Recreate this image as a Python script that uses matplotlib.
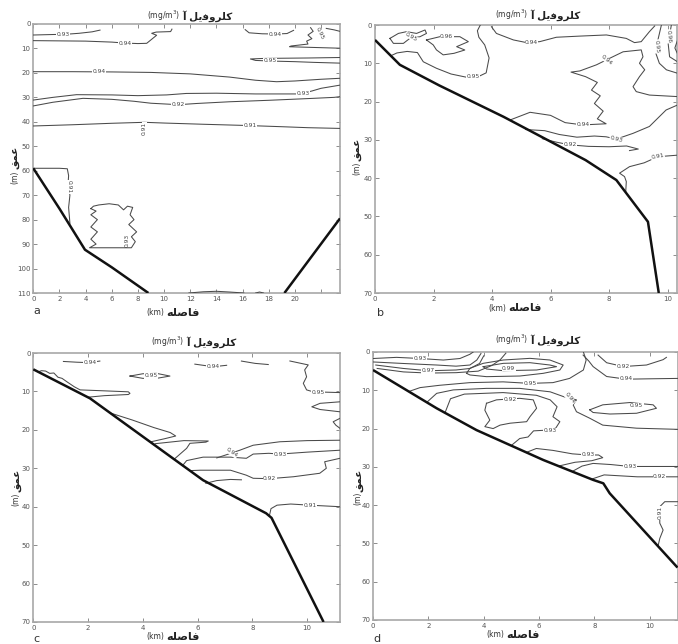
import matplotlib
matplotlib.use('Agg')
import matplotlib.pyplot as plt
from matplotlib.font_manager import findfont, FontProperties
from matplotlib.ft2font import FT2Font

plt.rcParams['font.family'] = ['DejaVu Sans']

def _has(ch, weight='bold'):
    try:
        f = FT2Font(findfont(FontProperties(family='DejaVu Sans', weight=weight)))
        return f.get_char_index(ord(ch)) != 0
    except Exception:
        return False

# ---- Persian text (presentation forms, visual order) ----
KAF_INI = '\uFB90' if _has('\uFB90') else '\uFEDB'
YEH_MED = '\uFBFE' if _has('\uFBFE') else '\uFEF4'
TITLE_FA = '\uFE81 ' + '\uFEDE' + YEH_MED + '\uFED3\uFEED\uFEAE\uFEE0' + KAF_INI   # آ کلروفیل
TITLE_UNIT = '(mg/m$^3$)'
XLABEL_FA = '\uFEEA\uFEE0\uFEBB\uFE8E\uFED3'   # فاصله
XLABEL_UNIT = '(km)'
YLABEL_FA = '\uFED6\uFEE4\uFECB'               # عمق
YLABEL_UNIT = '(m)'
PANEL_LETTERS = ['a', 'b', 'c', 'd']

# ---- axis ranges / ticks ----
A_XTICKS = [0, 2, 4, 6, 8, 10, 12, 14, 16, 18, 20, 22]
A_XTICKLABELS = ['0', '2', '4', '6', '8', '10', '12', '14', '16', '18', '20', '']
A_YTICKS = [0, 10, 20, 30, 40, 50, 60, 70, 80, 90, 100, 110]
BCD_XTICKS = [0, 2, 4, 6, 8, 10]
BCD_YTICKS = [0, 10, 20, 30, 40, 50, 60, 70]

# ---- panel a ----
A_BATHY = [([0, 2.0, 3.95, 6.0, 8.8], [59, 75.5, 92.3, 99.5, 110]),
           ([19.2, 23.45], [110, 79.5])]
A_LINES = [
    ([0, 1.5, 2.5, 3.5, 4.5, 5.1], [4.5, 4.3, 4.2, 3.8, 3.2, 2.5]),
    ([0, 2, 4, 6, 7, 8, 8.67, 9.43, 9.05, 9.4, 10.5, 10.6], [6.8, 6.9, 7.0, 7.4, 7.8, 8.0, 7.9, 4.6, 3.8, 3.3, 3.1, 2.1]),
    ([16.2, 16.5, 17.5, 18.6, 19.4, 19.9], [2.3, 3.6, 4.0, 4.1, 3.9, 2.6]),
    ([23.45, 21.5, 19.6, 19.7, 21.0, 20.9, 21.3, 21.0, 21.4, 21.2], [9.9, 9.6, 9.3, 9.0, 8.2, 7.0, 6.0, 4.5, 3.0, 1.5]),
    ([22.4, 23.0, 23.45], [1.8, 2.4, 3.0]),
    ([23.45, 21, 19, 17.5, 16.6, 17.0, 18.5, 20, 21.5, 23.45], [13.7, 13.9, 14.0, 14.1, 14.3, 14.9, 15.2, 15.4, 15.7, 16.0]),
    ([0, 3, 6, 9, 12, 15, 17, 18.6, 20, 22, 23.45], [19.5, 19.5, 19.6, 19.8, 20.4, 21.7, 23.0, 23.6, 23.3, 22.6, 22.2]),
    ([0, 1.5, 3.3, 6, 8, 10.2, 11.7, 14, 17, 20.4, 21.3, 22.0, 23.45], [31.1, 30.0, 28.9, 29.0, 29.3, 29.0, 28.4, 28.3, 28.6, 28.6, 27.4, 26.3, 25.0]),
    ([0, 1.5, 3.8, 6, 7.7, 9, 11.1, 12.5, 15, 18, 21, 23, 23.45], [33.5, 32.0, 30.4, 30.8, 31.6, 32.4, 33.0, 32.5, 31.8, 31.2, 30.5, 30.0, 29.7]),
    ([0, 3, 6, 8.5, 10, 13, 16.3, 19, 21, 23.45], [41.7, 41.2, 40.6, 40.2, 40.5, 41.0, 41.5, 42.0, 42.4, 42.7]),
    ([0, 1.0, 2.0, 2.6, 2.7, 2.65, 2.8, 2.7, 2.8], [59, 59, 59, 59.2, 62, 66, 70, 75, 81.5]),
    ([4.4, 4.6, 5.0, 5.8, 6.5, 6.9, 7.2, 7.6, 7.4, 7.7, 7.3, 7.9, 7.5, 7.8, 7.5, 4.3, 4.8, 4.4, 4.9, 4.4, 4.9, 4.4, 4.8, 4.4],
     [75.5, 74.5, 74.0, 73.5, 74.0, 76.0, 74.5, 75.0, 78.0, 80.0, 82.0, 85.0, 87.0, 89.0, 91.5, 91.5, 90.0, 88.0, 85.0, 83.0, 80.0, 78.0, 76.5, 75.5]),
    ([11.9, 13, 14, 15, 16.1], [110, 109.5, 109.3, 109.6, 110]),
    ([17.0, 17.3, 17.6], [110, 109.6, 110]),
]
A_LABELS = [('0.93', 2.3, 4.2, 0), ('0.94', 7.0, 7.8, 0), ('0.94', 18.5, 4.1, 0),
            ('0.95', 21.9, 3.8, -65), ('0.95', 18.1, 15.1, 0), ('0.94', 5.0, 19.6, 0),
            ('0.93', 20.6, 28.6, 0), ('0.92', 11.1, 33.0, 0), ('0.91', 8.5, 42.8, 90),
            ('0.91', 16.6, 41.6, 0), ('0.91', 2.72, 66.5, -90), ('0.93', 7.2, 88.5, 90)]

# ---- panel b ----
B_BATHY = [([0, 0.85, 2.2, 4.4, 7.2, 8.25, 9.33, 9.7], [3.9, 10.4, 15.8, 24.0, 35.3, 40.5, 51.4, 70])]
B_LINES = [
    ([0.51, 0.8, 1.08, 1.42, 1.71, 1.76, 1.54, 1.19, 0.97, 0.63, 0.51], [3.5, 2.2, 1.74, 2.2, 1.3, 2.2, 3.05, 3.5, 4.8, 4.8, 3.5]),
    ([1.76, 2.22, 2.9, 3.19, 2.79, 3.07, 2.7, 2.33, 2.1, 1.99, 1.76], [3.9, 3.05, 3.05, 4.35, 5.66, 6.53, 7.4, 7.8, 6.5, 5.2, 3.9]),
    ([0.55, 0.75, 1.1, 1.45, 1.65, 2.1, 2.6, 3.1, 3.5, 3.8, 3.9, 3.75, 3.55, 3.5, 3.6], [8.0, 7.3, 6.9, 7.2, 9.6, 11.3, 12.8, 13.6, 13.6, 12.5, 8.6, 5.2, 3.2, 1.5, 0]),
    ([3.98, 4.15, 4.73, 5.18, 5.63, 6.2, 7.0, 7.91, 8.59, 8.87, 9.1, 9.38, 9.56], [0.44, 2.2, 3.9, 4.6, 4.35, 3.2, 2.9, 2.6, 3.5, 4.6, 4.35, 1.74, 0.26]),
    ([4.62, 5.3, 6.0, 6.5, 7.1, 7.9, 7.6, 7.8, 7.5, 7.7, 7.4, 7.6, 7.2, 6.7, 7.0, 7.57, 8.02, 8.48, 9.1, 9.16, 9.04, 9.22, 9.04, 8.82, 8.93, 9.38, 10.34],
     [24.8, 22.8, 23.6, 25.5, 26.1, 25.8, 24.5, 22.5, 20.5, 18.5, 17.0, 15.0, 13.5, 12.3, 12.0, 10.4, 8.7, 7.0, 6.5, 8.3, 10.0, 11.7, 13.5, 16.1, 17.4, 18.3, 18.7]),
    ([5.15, 5.8, 6.3, 6.9, 7.5, 7.9, 8.25, 8.82, 9.38, 9.95, 10.34], [27.3, 27.6, 28.6, 29.3, 29.0, 29.2, 29.8, 28.3, 26.5, 22.2, 20.9]),
    ([5.72, 6.2, 6.66, 7.3, 8.0, 8.6, 9.0, 8.7], [29.7, 30.6, 31.3, 31.7, 31.8, 31.6, 32.4, 32.8]),
    ([10.34, 9.67, 9.2, 8.7, 8.36, 8.53, 8.59, 8.57], [34.0, 34.4, 36.0, 37.0, 38.7, 39.6, 40.9, 43.6]),
    ([9.79, 9.67, 9.6, 9.72, 9.96, 10.34], [0, 3.9, 7.4, 10.0, 11.7, 12.6]),
    ([10.13, 10.02, 10.07, 10.34], [0, 4.8, 8.3, 9.6]),
    ([10.34, 10.25, 10.34], [4.0, 6.0, 7.5]),
]
B_LABELS = [('0.95', 1.25, 3.1, -30), ('0.96', 2.45, 3.1, 0), ('0.95', 3.36, 13.5, 0),
            ('0.94', 5.35, 4.6, 0), ('0.94', 7.91, 9.1, -40), ('0.94', 7.1, 26.1, 0),
            ('0.93', 8.25, 29.8, -15), ('0.92', 6.66, 31.3, 0), ('0.91', 9.67, 34.4, 10),
            ('0.95', 9.64, 5.6, -85), ('0.96', 10.05, 3.0, -85)]

# ---- panel c ----
C_BATHY = [([0, 2.07, 6.2, 8.5, 8.7, 10.6], [4.25, 11.8, 33.1, 41.7, 42.9, 70])]
C_LINES = [
    ([1.1, 1.6, 2.0, 2.43], [2.2, 2.4, 2.5, 2.1]),
    ([3.53, 4.0, 4.5, 4.99, 4.5, 4.0, 3.53], [6.0, 5.4, 5.3, 6.0, 6.6, 6.6, 6.0]),
    ([5.9, 6.3, 6.8, 7.06], [2.9, 3.3, 3.4, 3.2]),
    ([7.6, 8.1, 8.58], [2.1, 2.7, 3.0]),
    ([9.37, 10.04, 9.91, 9.98, 9.86, 9.98, 10.22, 11.2], [2.08, 3.1, 4.4, 6.2, 7.9, 9.6, 10.1, 10.3]),
    ([11.2, 10.47, 10.17, 10.47, 11.2], [12.7, 13.1, 14.0, 14.7, 15.3]),
    ([11.2, 10.95, 11.05, 11.2], [17.0, 17.9, 18.8, 19.6]),
    ([0.18, 0.3, 0.45, 0.6, 0.75, 0.9, 1.05, 1.25, 1.5, 1.71, 2.43, 3.47, 3.53, 3.47, 2.6, 2.0],
     [4.9, 4.6, 4.7, 5.3, 5.2, 6.3, 6.6, 7.6, 8.8, 9.6, 9.8, 10.1, 10.5, 10.8, 11.1, 11.5]),
    ([2.85, 3.6, 4.4, 5.0, 5.2, 4.8, 4.3], [15.7, 17.4, 19.4, 20.7, 21.6, 22.3, 23.1]),
    ([4.45, 5.5, 6.39, 6.3, 5.72, 5.6, 5.15], [23.6, 22.8, 22.9, 23.2, 23.5, 24.8, 27.6]),
    ([6.7, 7.0, 7.54, 8.03, 9.0, 10.0, 11.2], [27.3, 26.6, 25.3, 24.0, 23.1, 22.8, 22.7]),
    ([5.45, 5.6, 6.2, 7.2, 7.78, 8.03, 8.6, 9.0, 10.0, 11.2], [29.3, 28.0, 27.1, 27.1, 27.4, 26.3, 26.1, 26.3, 25.8, 25.3]),
    ([5.75, 6.1, 7.2, 7.78, 8.03, 8.63, 9.5, 10.46, 10.7, 10.64, 11.2], [30.6, 30.5, 30.5, 31.8, 32.6, 32.7, 32.2, 31.3, 30.0, 28.3, 27.4]),
    ([6.3, 6.7, 7.2, 7.6], [33.9, 33.2, 32.9, 33.0]),
    ([8.62, 8.68, 8.9, 9.4, 10.1, 11.2], [42.4, 40.5, 39.6, 39.3, 39.6, 40.0]),
]
C_LABELS = [('0.94', 2.07, 2.5, 0), ('0.95', 4.3, 5.9, 0), ('0.94', 6.57, 3.4, 0),
            ('0.95', 10.4, 10.15, 0), ('0.94', 7.24, 25.9, -35), ('0.93', 9.0, 26.3, 0),
            ('0.92', 8.63, 32.7, 0), ('0.91', 10.1, 39.6, 0)]

# ---- panel d ----
D_BATHY = [([0, 2.3, 3.74, 6.15, 7.95, 8.32, 8.55, 11.0], [4.7, 14.7, 20.4, 28.2, 33.4, 34.3, 36.9, 56.3])]
D_LINES = [
    ([0, 0.85, 1.7, 2.54, 3.14, 3.5, 3.62], [1.7, 1.4, 1.7, 2.1, 1.7, 0.6, 0]),
    ([0, 1.1, 2.3, 3.0, 3.5, 3.75, 3.9], [2.6, 3.0, 3.4, 3.7, 3.4, 2.1, 0.4]),
    ([0.1, 1.1, 2.0, 3.0, 3.5, 3.85, 4.0], [3.4, 4.3, 4.9, 4.7, 4.3, 3.0, 1.0]),
    ([0.15, 1.1, 2.0, 3.0, 3.8, 4.3, 4.6, 4.8], [4.3, 5.2, 5.5, 5.4, 5.0, 3.5, 2.0, 0.3]),
    ([3.98, 4.71, 5.67, 6.39, 6.63, 5.91, 4.71, 4.10, 3.98], [3.83, 2.96, 2.79, 3.4, 3.83, 4.7, 4.88, 4.44, 3.83]),
    ([3.38, 3.5, 3.98, 4.71, 5.67, 6.39, 6.87, 6.75, 6.15, 5.31, 4.10, 3.5, 3.38], [5.57, 4.27, 2.96, 2.09, 1.66, 2.09, 3.40, 4.70, 5.57, 6.27, 6.44, 6.0, 5.57]),
    ([1.3, 1.7, 2.4, 3.5, 4.7, 5.67, 6.5, 7.1, 7.6, 7.7, 7.6], [10.3, 9.3, 8.7, 8.0, 7.8, 8.2, 8.0, 6.9, 4.7, 2.1, 0]),
    ([1.95, 2.3, 2.9, 4.1, 5.3, 6.4, 6.9, 7.35, 7.23, 7.35, 7.83, 8.3, 9.52, 11.0], [13.1, 10.8, 9.9, 9.5, 9.5, 10.4, 11.7, 12.5, 13.8, 15.6, 17.3, 19.1, 19.9, 20.2]),
    ([4.1, 4.46, 5.3, 5.79, 5.91, 5.67, 5.55, 4.95, 4.59, 4.34, 4.04, 4.22, 4.04, 4.1], [13.4, 12.5, 12.1, 12.5, 14.7, 16.9, 18.2, 18.6, 19.1, 20.0, 19.5, 17.8, 15.2, 13.4]),
    ([2.6, 2.8, 3.3, 4.7, 5.9, 6.4, 6.65, 6.5, 6.75, 6.6, 6.3, 5.8, 5.6, 5.3, 5.0], [15.9, 12.2, 11.0, 10.6, 11.3, 12.5, 14.3, 16.9, 18.2, 19.9, 20.4, 20.6, 22.2, 22.6, 24.4]),
    ([5.55, 5.9, 6.5, 7.2, 7.77, 8.15, 8.3, 7.9, 7.3, 6.7], [26.2, 25.2, 25.7, 26.6, 26.9, 26.9, 27.6, 28.4, 28.8, 29.8]),
    ([7.2, 7.55, 7.95, 8.6, 9.28, 10.2, 11.0], [31.2, 29.8, 29.1, 29.4, 29.9, 29.9, 29.9]),
    ([7.9, 8.35, 9.55, 10.94, 11.0], [33.2, 32.1, 32.6, 32.6, 32.6]),
    ([11.0, 10.54, 10.36, 10.36, 10.48, 10.36, 10.3], [39.1, 39.1, 40.4, 44.7, 46.5, 48.7, 50.6]),
    ([7.83, 8.3, 9.28, 10.12, 10.24, 9.52, 8.56, 7.95, 7.83], [15.1, 13.8, 13.2, 13.8, 14.7, 16.0, 16.2, 15.8, 15.1]),
    ([8.13, 8.44, 9.04, 9.88, 10.48, 10.6], [0.8, 2.8, 3.8, 3.4, 2.0, 1.4]),
    ([7.59, 7.8, 7.95, 8.44, 9.15, 10.0, 11.0], [0.8, 2.4, 3.8, 6.4, 7.1, 7.0, 6.9]),
]
D_LABELS = [('0.93', 1.7, 1.7, 0), ('0.97', 2.0, 4.9, 0), ('0.99', 4.9, 4.3, 0),
            ('0.95', 5.67, 8.3, 0), ('0.94', 7.1, 12.1, -50), ('0.92', 4.95, 12.4, 0),
            ('0.93', 6.4, 20.5, 0), ('0.93', 7.77, 26.9, 0), ('0.93', 9.28, 29.9, 0),
            ('0.92', 10.35, 32.6, 0), ('0.91', 10.36, 42.0, 90), ('0.95', 9.52, 14.0, 0),
            ('0.92', 9.04, 3.8, 0), ('0.94', 9.15, 7.05, 0)]

# ---------------------------------------------------------------
W, H = 678, 644
fig = plt.figure(figsize=(W / 100, H / 100), dpi=100)

def fx(px):
    return px / W

def fy(py):
    return 1 - py / H

GREY = '#8c8c8c'
LINEC = '#4a4a4a'

panels = [
    dict(box=(33.3, 24, 340, 293), xlim=23.45, ylim=110, xt=A_XTICKS, xtl=A_XTICKLABELS, yt=A_YTICKS,
         bathy=A_BATHY, lines=A_LINES, labels=A_LABELS,
         title=185, ty=16, xl=164, xly=313, ylx=15, yl=(157, 177), letter=(33, 316)),
    dict(box=(375, 25, 677.5, 293), xlim=10.34, ylim=70, xt=BCD_XTICKS, xtl=None, yt=BCD_YTICKS,
         bathy=B_BATHY, lines=B_LINES, labels=B_LABELS,
         title=533, ty=15, xl=506, xly=308, ylx=357, yl=(149, 168), letter=(377, 318)),
    dict(box=(33.3, 353, 340, 622), xlim=11.2, ylim=70, xt=BCD_XTICKS, xtl=None, yt=BCD_YTICKS,
         bathy=C_BATHY, lines=C_LINES, labels=C_LABELS,
         title=189, ty=342, xl=164, xly=637, ylx=16, yl=(480, 499), letter=(33, 644)),
    dict(box=(373, 352, 677.5, 620), xlim=11.0, ylim=70, xt=BCD_XTICKS, xtl=None, yt=BCD_YTICKS,
         bathy=D_BATHY, lines=D_LINES, labels=D_LABELS,
         title=533, ty=340, xl=504, xly=635, ylx=358, yl=(480, 498), letter=(373, 644)),
]

for i, p in enumerate(panels):
    l, t, r, b = p['box']
    ax = fig.add_axes([fx(l), fy(b), (r - l) / W, (b - t) / H])
    ax.set_xlim(0, p['xlim'])
    ax.set_ylim(p['ylim'], 0)
    ax.set_xticks(p['xt'])
    if p['xtl'] is not None:
        ax.set_xticklabels(p['xtl'])
    ax.set_yticks(p['yt'])
    ax.tick_params(direction='in', length=3, width=0.7, colors=GREY, labelcolor='#555555',
                   labelsize=5, top=True, right=True, pad=2)
    for s in ax.spines.values():
        s.set_color('#a8a8a8')
        s.set_linewidth(1.2)
    for xs, ys in p['lines']:
        ax.plot(xs, ys, color=LINEC, lw=0.75, zorder=3, solid_joinstyle='round')
    for txt, x, y, rot in p['labels']:
        ax.text(x, y, txt, fontsize=4.3, color='#444444', rotation=rot, ha='center', va='center',
                zorder=4, bbox=dict(facecolor='white', edgecolor='none', pad=0.25))
    for xs, ys in p['bathy']:
        ax.plot(xs, ys, color='#111111', lw=1.8, zorder=5, solid_capstyle='butt')

    cx = p['title']
    fig.text(fx(cx - 5), fy(p['ty']), TITLE_UNIT, fontsize=5.5, color='#333333', ha='right', va='center')
    fig.text(fx(cx - 3), fy(p['ty']), TITLE_FA, fontsize=7.5, fontweight='bold', color='#222222',
             ha='left', va='center')
    fig.text(fx(p['xl']), fy(p['xly']), XLABEL_UNIT, fontsize=5.5, color='#333333', ha='right', va='center')
    fig.text(fx(p['xl'] + 2), fy(p['xly']), XLABEL_FA, fontsize=8, fontweight='bold', color='#222222',
             ha='left', va='center')
    fig.text(fx(p['ylx']), fy(p['yl'][0]), YLABEL_FA, fontsize=7.5, fontweight='bold', color='#222222',
             rotation=90, ha='center', va='center')
    fig.text(fx(p['ylx']), fy(p['yl'][1]), YLABEL_UNIT, fontsize=5.5, color='#333333',
             rotation=90, ha='center', va='center')
    fig.text(fx(p['letter'][0]), fy(p['letter'][1]), PANEL_LETTERS[i], fontsize=8, color='#333333',
             ha='left', va='bottom')

fig.savefig('out.png', dpi=100)
